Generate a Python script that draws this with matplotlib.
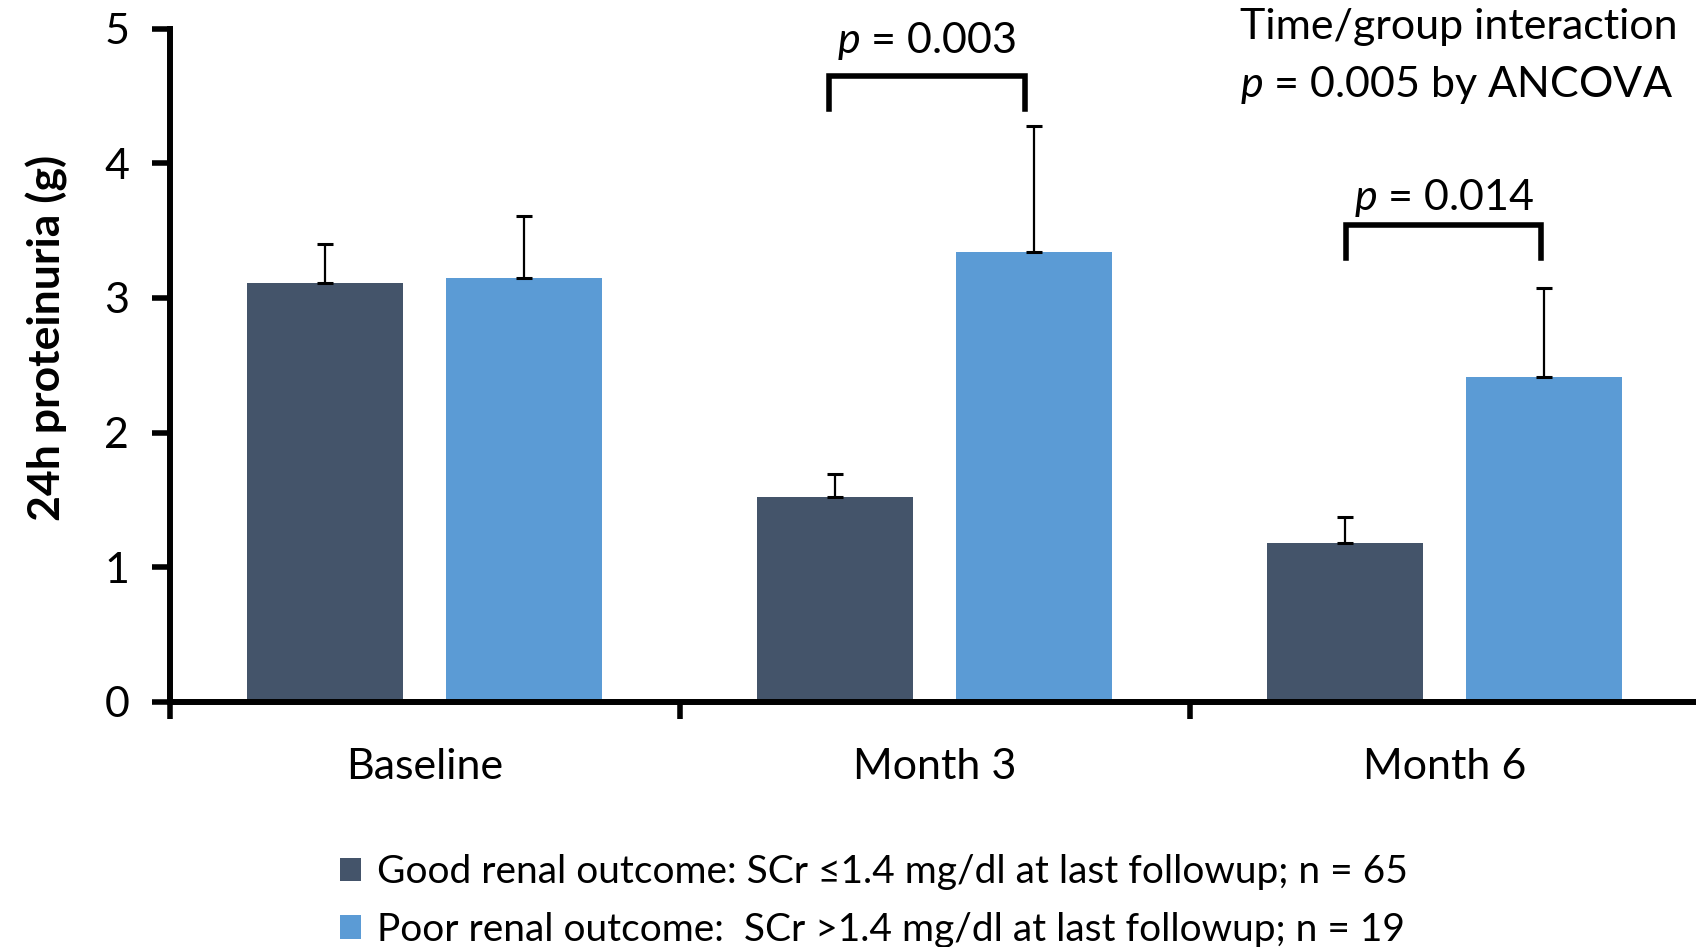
import matplotlib
matplotlib.use("Agg")
import matplotlib.pyplot as plt
from matplotlib.patches import Patch
import numpy as np

# ---------------- data ----------------
categories = ["Baseline", "Month 3", "Month 6"]
good_vals = [3.11, 1.52, 1.18]
good_err = [0.29, 0.17, 0.19]
poor_vals = [3.15, 3.34, 2.41]
poor_err = [0.46, 0.94, 0.66]
series_labels = ["Good renal outcome: SCr \u22641.4 mg/dl at last followup; n = 65",
                 "Poor renal outcome:  SCr >1.4 mg/dl at last followup; n = 19"]
ylabel = "24h proteinuria (g)"
y_ticks = [0, 1, 2, 3, 4, 5]
# significance brackets: (category index, p text, bracket top, leg bottom, text y)
brackets = [(1, "$p$ = 0.003", 4.65, 4.40, 4.91),
            (2, "$p$ = 0.014", 3.54, 3.30, 3.74)]
note_lines = ["Time/group interaction", "$p$ = 0.005 by ANCOVA"]

# ---------------- style ----------------
FONT = ["Lato", "DejaVu Sans"]
plt.rcParams["font.family"] = FONT
plt.rcParams["mathtext.fontset"] = "custom"
plt.rcParams["mathtext.it"] = "Lato:italic"
plt.rcParams["mathtext.rm"] = "Lato"
c_good = "#44546A"
c_poor = "#5B9BD5"
FS_TICK = 31
FS_ANN = 31
FS_LEG = 28

fig = plt.figure(figsize=(16.96, 9.47), dpi=100)
ax = fig.add_axes([0.1000, 0.2590, 0.9021, 0.7107])

x = np.arange(len(categories))
off = 0.195
w = 0.306
ekw = dict(elinewidth=1.6, capthick=2.2, ecolor="black")
ax.bar(x - off, good_vals, w, color=c_good, label=series_labels[0],
       yerr=[np.zeros(len(x)), good_err], capsize=5.5, error_kw=ekw, zorder=2)
ax.bar(x + off, poor_vals, w, color=c_poor, label=series_labels[1],
       yerr=[np.zeros(len(x)), poor_err], capsize=5.5, error_kw=ekw, zorder=2)

ax.set_xlim(-0.5, 2.5)
ax.set_ylim(0, 5)

for s in ["top", "right"]:
    ax.spines[s].set_visible(False)
for s in ["left", "bottom"]:
    ax.spines[s].set_linewidth(4.3)
    ax.spines[s].set_capstyle("projecting")

ax.set_yticks(y_ticks)
ax.set_yticklabels([str(t) for t in y_ticks])
ax.tick_params(axis="y", length=13, width=4.0, pad=16, labelsize=FS_TICK)

# major x ticks at group boundaries (no labels), labels via minor ticks
ax.set_xticks(np.arange(-0.5, len(categories), 1.0))
ax.set_xticklabels([])
ax.tick_params(axis="x", which="major", length=12, width=4.0)
ax.set_xticks(x, minor=True)
ax.set_xticklabels(categories, minor=True)
ax.tick_params(axis="x", which="minor", length=0, pad=33, labelsize=FS_TICK)

ax.set_ylabel(ylabel, fontsize=32, fontweight="bold")
ax.yaxis.label.set_va("center")
ax.yaxis.set_label_coords(-0.0805, 0.540)

# significance brackets
for idx, txt, top, bot, ty in brackets:
    xl = idx - 0.207 if idx == 1 else idx - 0.193
    xr = idx + 0.177 if idx == 1 else idx + 0.190
    ax.plot([xl, xl, xr, xr], [bot, top, top, bot], color="black", lw=4.0,
            solid_joinstyle="miter", clip_on=False, zorder=3)
    ax.text((xl + xr) / 2, ty, txt, ha="center", va="center", fontsize=FS_ANN)

# top-right note
fig.text(0.7311, 0.9710, note_lines[0], ha="left", va="center", fontsize=FS_ANN)
fig.text(0.7311, 0.9100, note_lines[1], ha="left", va="center", fontsize=FS_ANN)

# legend
handles = [Patch(facecolor=c_good, label=series_labels[0]),
           Patch(facecolor=c_poor, label=series_labels[1])]
fig.legend(handles=handles, loc="upper left", bbox_to_anchor=(0.2005, 0.098),
           frameon=False, fontsize=FS_LEG, handlelength=0.55, handleheight=0.55,
           handletextpad=0.4, labelspacing=0.55, borderpad=0, borderaxespad=0)

fig.savefig("out.png", dpi=100)
